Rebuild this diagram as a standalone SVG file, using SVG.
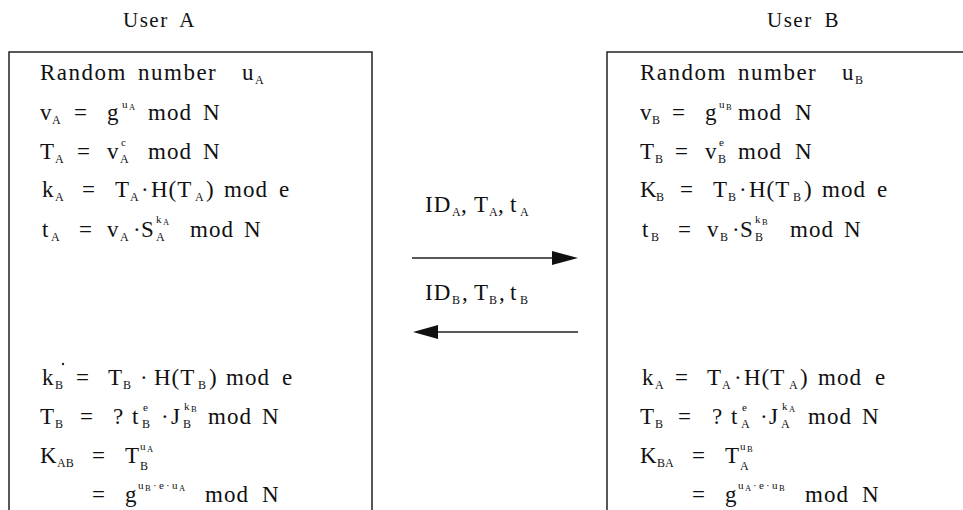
<svg xmlns="http://www.w3.org/2000/svg" width="963" height="510" viewBox="0 0 963 510">
<style>
text{font-family:"Liberation Serif","DejaVu Serif",serif;fill:#111;}
.t{font-size:23px;letter-spacing:1px;}
.w{letter-spacing:1.5px;}
.h{font-size:21px;letter-spacing:1.5px;word-spacing:5px;}
.s{font-size:12px;letter-spacing:0;}
.p{font-size:11px;letter-spacing:0;}
.q{font-size:8.5px;letter-spacing:0;}
.box{fill:none;stroke:#222;stroke-width:1.5;}
.ln{stroke:#222;stroke-width:1.4;fill:none;}
.ah{fill:#111;}
</style>
<rect width="963" height="510" fill="#fff"/>
<g id="headerA"><text class="h" x="123" y="27">User A</text></g>
<g id="headerB"><text class="h" x="767" y="27">User B</text></g>

<g id="userA">
<path class="box" d="M9,510 V52 H372 V510"/>
<text class="t" x="40" y="80"><tspan class="w">Random</tspan><tspan class="w" x="138">number</tspan><tspan x="242">u</tspan><tspan class="s" x="255" y="84">A</tspan></text>
<text class="t" x="40" y="120">v<tspan class="s" x="52" y="124">A</tspan><tspan x="74" y="120">=</tspan><tspan x="107">g</tspan><tspan class="p" x="122" y="108">u</tspan><tspan class="q" x="129" y="110">A</tspan><tspan x="148" y="120">mod</tspan><tspan x="203">N</tspan></text>
<text class="t" x="40" y="159">T<tspan class="s" x="55" y="163">A</tspan><tspan x="77" y="159">=</tspan><tspan x="107">v</tspan><tspan class="s" x="120" y="163">A</tspan><tspan class="p" x="121" y="146">c</tspan><tspan x="148" y="159">mod</tspan><tspan x="203">N</tspan></text>
<text class="t" x="42" y="197">k<tspan class="s" x="55" y="201">A</tspan><tspan x="82" y="197">=</tspan><tspan x="115">T</tspan><tspan class="s" x="130" y="201">A</tspan><tspan x="141" y="197">·</tspan><tspan x="151">H(T</tspan><tspan class="s" x="195" y="201">A</tspan><tspan x="206" y="197">)</tspan><tspan x="224">mod</tspan><tspan x="279">e</tspan></text>
<text class="t" x="42" y="237">t<tspan class="s" x="51" y="241">A</tspan><tspan x="79" y="237">=</tspan><tspan x="107">v</tspan><tspan class="s" x="120" y="241">A</tspan><tspan x="133" y="237">·</tspan><tspan x="141">S</tspan><tspan class="s" x="156" y="241">A</tspan><tspan class="p" x="156" y="223">k</tspan><tspan class="q" x="163" y="225">A</tspan><tspan x="190" y="237">mod</tspan><tspan x="244">N</tspan></text>
<circle cx="63" cy="364" r="1.2" fill="#222"/>
<text class="t" x="42" y="385">k<tspan class="s" x="55" y="389">B</tspan><tspan x="76" y="385">=</tspan><tspan x="108">T</tspan><tspan class="s" x="123" y="389">B</tspan><tspan x="140" y="385">·</tspan><tspan x="154">H(T</tspan><tspan class="s" x="198" y="389">B</tspan><tspan x="209" y="385">)</tspan><tspan x="226">mod</tspan><tspan x="282">e</tspan></text>
<text class="t" x="40" y="424">T<tspan class="s" x="55" y="428">B</tspan><tspan x="80" y="424">=</tspan><tspan x="113">?</tspan><tspan x="132">t</tspan><tspan class="s" x="142" y="428">B</tspan><tspan class="p" x="143" y="411">e</tspan><tspan x="161" y="424">·</tspan><tspan x="171">J</tspan><tspan class="s" x="183" y="428">B</tspan><tspan class="p" x="184" y="410">k</tspan><tspan class="q" x="191" y="412">B</tspan><tspan x="208" y="424">mod</tspan><tspan x="262">N</tspan></text>
<text class="t" x="40" y="463">K<tspan class="s" x="57" y="467">AB</tspan><tspan x="92" y="463">=</tspan><tspan x="125">T</tspan><tspan class="s" x="140" y="470">B</tspan><tspan class="p" x="140" y="450">u</tspan><tspan class="q" x="147" y="452">A</tspan></text>
<text class="t" x="92" y="502">=<tspan x="125">g</tspan><tspan class="p" x="138" y="489">u</tspan><tspan class="q" x="145" y="491">B</tspan><tspan class="p" x="153" y="489">·</tspan><tspan class="p" x="159" y="489">e</tspan><tspan class="p" x="166" y="489">·</tspan><tspan class="p" x="172" y="489">u</tspan><tspan class="q" x="179" y="491">A</tspan><tspan x="205" y="502">mod</tspan><tspan x="262">N</tspan></text>
</g>

<g id="userB">
<path class="box" d="M607,510 V52 H963"/>
<text class="t" x="640" y="80"><tspan class="w">Random</tspan><tspan class="w" x="738">number</tspan><tspan x="842">u</tspan><tspan class="s" x="855" y="84">B</tspan></text>
<text class="t" x="640" y="120">v<tspan class="s" x="652" y="124">B</tspan><tspan x="672" y="120">=</tspan><tspan x="705">g</tspan><tspan class="p" x="719" y="108">u</tspan><tspan class="q" x="726" y="110">B</tspan><tspan x="738" y="120">mod</tspan><tspan x="795">N</tspan></text>
<text class="t" x="640" y="159">T<tspan class="s" x="655" y="163">B</tspan><tspan x="675" y="159">=</tspan><tspan x="705">v</tspan><tspan class="s" x="718" y="163">B</tspan><tspan class="p" x="719" y="146">e</tspan><tspan x="738" y="159">mod</tspan><tspan x="795">N</tspan></text>
<text class="t" x="640" y="197">K<tspan class="s" x="656" y="201">B</tspan><tspan x="680" y="197">=</tspan><tspan x="713">T</tspan><tspan class="s" x="728" y="201">B</tspan><tspan x="739" y="197">·</tspan><tspan x="749">H(T</tspan><tspan class="s" x="793" y="201">B</tspan><tspan x="804" y="197">)</tspan><tspan x="822">mod</tspan><tspan x="877">e</tspan></text>
<text class="t" x="642" y="237">t<tspan class="s" x="651" y="241">B</tspan><tspan x="678" y="237">=</tspan><tspan x="707">v</tspan><tspan class="s" x="720" y="241">B</tspan><tspan x="732" y="237">·</tspan><tspan x="740">S</tspan><tspan class="s" x="755" y="241">B</tspan><tspan class="p" x="755" y="223">k</tspan><tspan class="q" x="762" y="225">B</tspan><tspan x="790" y="237">mod</tspan><tspan x="844">N</tspan></text>
<text class="t" x="642" y="385">k<tspan class="s" x="655" y="389">A</tspan><tspan x="675" y="385">=</tspan><tspan x="707">T</tspan><tspan class="s" x="722" y="389">A</tspan><tspan x="734" y="385">·</tspan><tspan x="744">H(T</tspan><tspan class="s" x="789" y="389">A</tspan><tspan x="800" y="385">)</tspan><tspan x="818">mod</tspan><tspan x="875">e</tspan></text>
<text class="t" x="640" y="424">T<tspan class="s" x="655" y="428">B</tspan><tspan x="678" y="424">=</tspan><tspan x="712">?</tspan><tspan x="731">t</tspan><tspan class="s" x="741" y="428">A</tspan><tspan class="p" x="742" y="411">e</tspan><tspan x="760" y="424">·</tspan><tspan x="769">J</tspan><tspan class="s" x="781" y="428">A</tspan><tspan class="p" x="782" y="410">k</tspan><tspan class="q" x="789" y="412">A</tspan><tspan x="808" y="424">mod</tspan><tspan x="862">N</tspan></text>
<text class="t" x="640" y="463">K<tspan class="s" x="657" y="467">BA</tspan><tspan x="692" y="463">=</tspan><tspan x="725">T</tspan><tspan class="s" x="740" y="470">A</tspan><tspan class="p" x="740" y="450">u</tspan><tspan class="q" x="747" y="452">B</tspan></text>
<text class="t" x="692" y="502">=<tspan x="725">g</tspan><tspan class="p" x="738" y="489">u</tspan><tspan class="q" x="745" y="491">A</tspan><tspan class="p" x="753" y="489">·</tspan><tspan class="p" x="759" y="489">e</tspan><tspan class="p" x="766" y="489">·</tspan><tspan class="p" x="772" y="489">u</tspan><tspan class="q" x="779" y="491">B</tspan><tspan x="805" y="502">mod</tspan><tspan x="862">N</tspan></text>
</g>

<g id="connectors">
<line class="ln" x1="412" y1="258" x2="556" y2="258"/>
<polygon class="ah" points="552,251 578,258 552,265"/>
<line class="ln" x1="578" y1="332" x2="434" y2="332"/>
<polygon class="ah" points="438,325 413,332 438,339"/>
<text class="t" x="425" y="212">ID<tspan class="s" x="452" y="216">A</tspan><tspan x="461" y="212">,</tspan><tspan x="474">T</tspan><tspan class="s" x="489" y="216">A</tspan><tspan x="498" y="212">,</tspan><tspan x="510">t</tspan><tspan class="s" x="520" y="216">A</tspan></text>
<text class="t" x="425" y="300">ID<tspan class="s" x="452" y="304">B</tspan><tspan x="462" y="300">,</tspan><tspan x="474">T</tspan><tspan class="s" x="489" y="304">B</tspan><tspan x="499" y="300">,</tspan><tspan x="510">t</tspan><tspan class="s" x="520" y="304">B</tspan></text>
</g>
</svg>
